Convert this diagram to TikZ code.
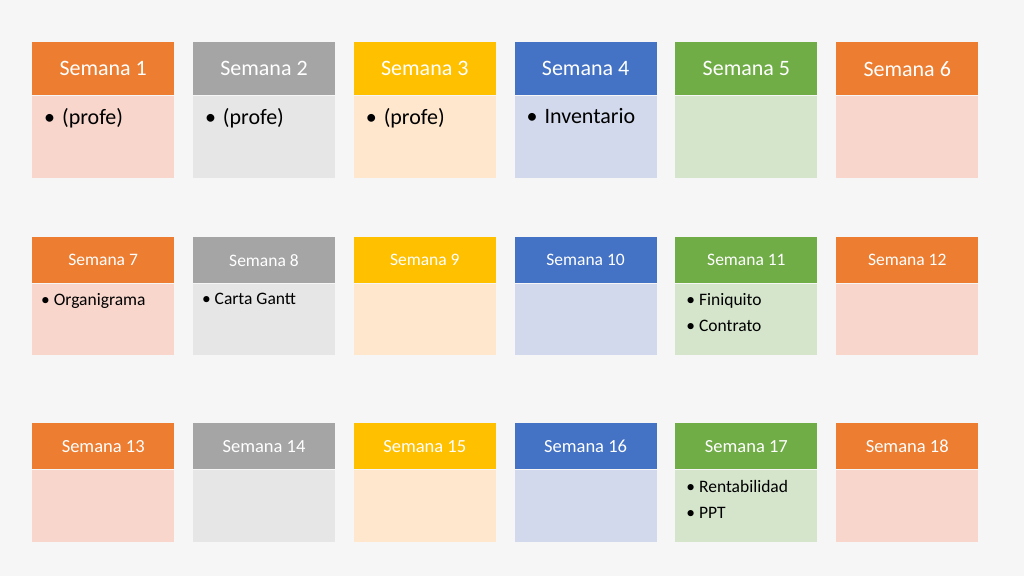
\documentclass[tikz,border=0pt]{standalone}
\usepackage{fontspec}
\setmainfont{Carlito}
\definecolor{cOr}{HTML}{ED7D31}\definecolor{lOr}{HTML}{F8D6CB}
\definecolor{cGy}{HTML}{A5A5A5}\definecolor{lGy}{HTML}{E6E6E6}
\definecolor{cYe}{HTML}{FFC000}\definecolor{lYe}{HTML}{FEE7CC}
\definecolor{cBl}{HTML}{4472C4}\definecolor{lBl}{HTML}{D3D9EC}
\definecolor{cGr}{HTML}{70AD47}\definecolor{lGr}{HTML}{D4E5CC}
\begin{document}
\begin{tikzpicture}[x=1pt,y=-1pt,
    head/.style={minimum width=142pt,inner sep=0pt,anchor=north west,text=white},
    body/.style={minimum width=142pt,inner sep=0pt,anchor=north west},
    item/.style={anchor=north west,inner sep=0pt,align=left}]
  \fill[gray!7] (0,0) rectangle (1024,576);
  \useasboundingbox (0,0) rectangle (1024,576);
  % rows: top, header height, body height, font size
  \foreach \r/\top/\hh/\bh/\fs in {1/42/53/82/22,2/237/46/71/17.5,3/423/46/72/18.5}{
    \foreach \c/\col in {1/Or,2/Gy,3/Ye,4/Bl,5/Gr,6/Or}{
      \pgfmathtruncatemacro{\n}{(\r-1)*6+\c}
      \node[head,fill=c\col,minimum height=\hh pt,font=\fontsize{\fs}{\fs}\selectfont]
        (h\n) at ({32+(\c-1)*160.8},\top) {Semana \n};
      \node[body,fill=l\col,minimum height=\bh pt] (b\n) at (h\n.south west) {};
    }
  }
  % tasks
  \foreach \n/\t in {1/(profe),2/(profe),3/(profe),4/Inventario}
    \node[item,font=\fontsize{22}{22}\selectfont] (t\n) at ([xshift=12pt,yshift=-13pt]b\n.north west) {\textbullet\hspace{7pt}\t};
  \node[item,font=\fontsize{17.5}{26}\selectfont] (t7) at ([xshift=9pt,yshift=-10pt]b7.north west) {\textbullet\ Organigrama};
  \node[item,font=\fontsize{17.5}{26}\selectfont] (t8) at ([xshift=9pt,yshift=-10pt]b8.north west) {\textbullet\ Carta Gantt};
  \node[item,font=\fontsize{17.5}{26}\selectfont] (t11) at ([xshift=11pt,yshift=-10pt]b11.north west) {\textbullet\ Finiquito\\\textbullet\ Contrato};
  \node[item,font=\fontsize{17.5}{26}\selectfont] (t17) at ([xshift=11pt,yshift=-11pt]b17.north west) {\textbullet\ Rentabilidad\\\textbullet\ PPT};
\end{tikzpicture}
\end{document}
